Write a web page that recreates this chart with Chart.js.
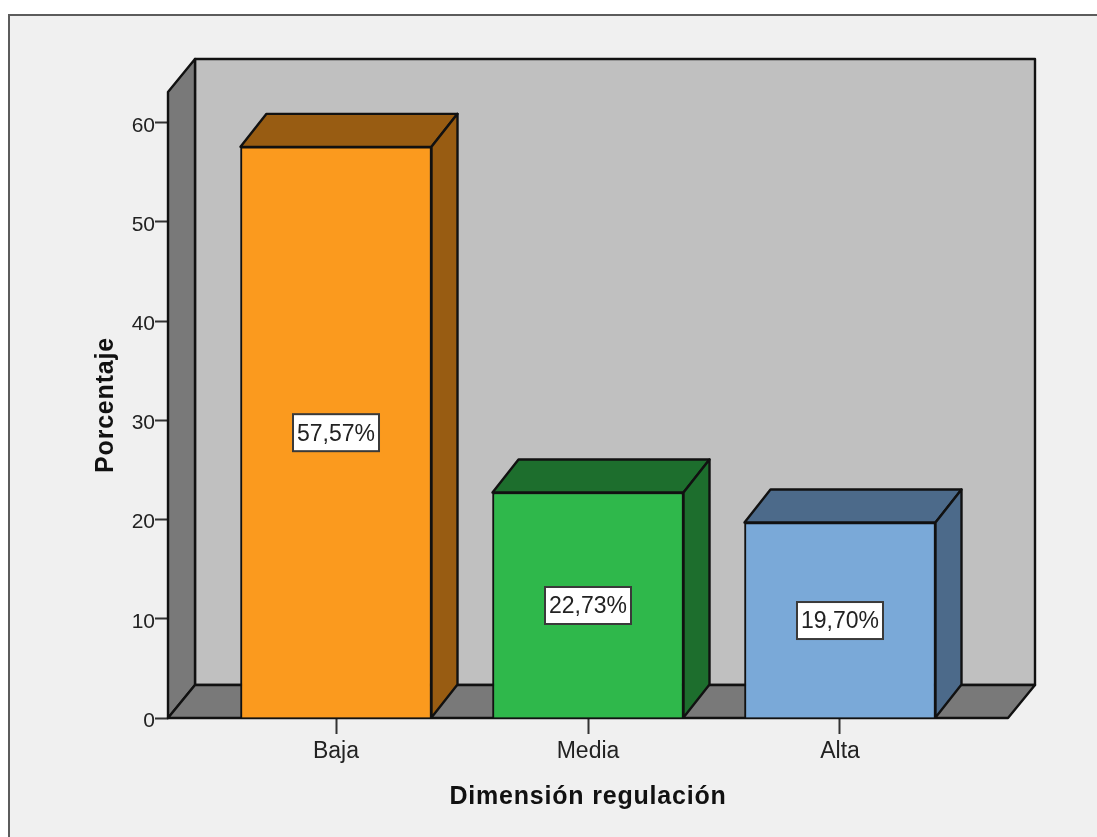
<!DOCTYPE html>
<html lang="es">
<head>
<meta charset="utf-8">
<title>Dimensión regulación</title>
<script src="https://cdn.jsdelivr.net/npm/chart.js@4/dist/chart.umd.min.js"></script>
<style>
  html, body { margin: 0; padding: 0; background: #ffffff; }
  canvas { display: block; }
</style>
</head>
<body>
<canvas id="grafico" width="1097" height="837"></canvas>
<script>
// Datos del gráfico
const categorias = ["Baja", "Media", "Alta"];
const porcentajes = [57.57, 22.73, 19.7];
const etiquetasValor = ["57,57%", "22,73%", "19,70%"];
const marcasY = [0, 10, 20, 30, 40, 50, 60];

// Colores de las barras: frente y caras laterales
const coloresFrente = ["#fb9a1e", "#2fb84b", "#7aa9d8"];
const coloresLado = ["#985c12", "#1d6e2d", "#4c6a8a"];

const FUENTE = "'Liberation Sans', Arial, sans-serif";
const LINEA = "#111111";
const FONDO_X = 27; // desplazamiento de la perspectiva (paredes)
const FONDO_Y = 33;
const BARRA_X = 26; // desplazamiento de la perspectiva (barras)

function poligono(ctx, puntos, relleno) {
  ctx.beginPath();
  puntos.forEach((p, i) => (i === 0 ? ctx.moveTo(p[0], p[1]) : ctx.lineTo(p[0], p[1])));
  ctx.closePath();
  ctx.fillStyle = relleno;
  ctx.fill();
  ctx.lineWidth = 2.4;
  ctx.strokeStyle = LINEA;
  ctx.lineJoin = "round";
  ctx.stroke();
}

// Marco gris y fondo del panel
const marco = {
  id: "marco",
  beforeDraw(chart) {
    const ctx = chart.ctx;
    ctx.save();
    ctx.fillStyle = "#f0f0f0";
    ctx.fillRect(9, 15, chart.width - 9, chart.height - 15);
    ctx.strokeStyle = "#5c5c5c";
    ctx.lineWidth = 2;
    ctx.beginPath();
    ctx.moveTo(9, chart.height);
    ctx.lineTo(9, 15);
    ctx.lineTo(chart.width, 15);
    ctx.stroke();
    ctx.restore();
  },
};

// Títulos de eje con las letras algo separadas
const titulosEspaciados = {
  id: "titulosEspaciados",
  afterLayout(chart) {
    [chart.scales.x, chart.scales.y].forEach((escala) => {
      const original = Object.getPrototypeOf(escala).drawTitle;
      escala.drawTitle = function () {
        chart.ctx.save();
        chart.ctx.letterSpacing = "0.8px";
        original.call(this);
        chart.ctx.restore();
      };
    });
  },
};

// Paredes, suelo y caras 3D de las barras
const caja3d = {
  id: "caja3d",
  beforeDatasetsDraw(chart) {
    const ctx = chart.ctx;
    const { left, right, top, bottom } = chart.chartArea;
    const dx = FONDO_X;
    const dy = FONDO_Y;
    ctx.save();
    poligono(ctx, [[left + dx, top - dy], [right + dx, top - dy], [right + dx, bottom - dy], [left + dx, bottom - dy]], "#c0c0c0");
    poligono(ctx, [[left, top], [left + dx, top - dy], [left + dx, bottom - dy], [left, bottom]], "#797979");
    poligono(ctx, [[left, bottom], [left + dx, bottom - dy], [right + dx, bottom - dy], [right, bottom]], "#797979");

    chart.getDatasetMeta(0).data.forEach((barra, i) => {
      const x0 = barra.x - barra.width / 2;
      const x1 = barra.x + barra.width / 2;
      const y = barra.y;
      const base = barra.base;
      poligono(ctx, [[x0, y], [x0 + BARRA_X, y - dy], [x1 + BARRA_X, y - dy], [x1, y]], coloresLado[i]);
      poligono(ctx, [[x1, y], [x1 + BARRA_X, y - dy], [x1 + BARRA_X, base - dy], [x1, base]], coloresLado[i]);
    });
    ctx.restore();
  },
  afterDatasetsDraw(chart) {
    const ctx = chart.ctx;
    ctx.save();
    // Etiquetas de valor en el centro de cada barra
    ctx.font = "23px " + FUENTE;
    ctx.textAlign = "center";
    ctx.textBaseline = "middle";
    chart.getDatasetMeta(0).data.forEach((barra, i) => {
      const cy = (barra.y + barra.base) / 2;
      ctx.fillStyle = "#ffffff";
      ctx.fillRect(barra.x - 43, cy - 18, 86, 37);
      ctx.strokeStyle = "#3a3a3a";
      ctx.lineWidth = 2;
      ctx.strokeRect(barra.x - 43, cy - 18, 86, 37);
      ctx.fillStyle = "#222222";
      ctx.fillText(etiquetasValor[i], barra.x, cy + 2);
    });
    ctx.restore();
  },
};

new Chart(document.getElementById("grafico"), {
  type: "bar",
  data: {
    datasets: [
      {
        label: "Porcentaje",
        data: categorias.map((c, i) => ({ x: i, y: porcentajes[i] })),
        backgroundColor: coloresFrente,
        borderColor: LINEA,
        borderWidth: 2,
        barThickness: 191,
      },
    ],
  },
  options: {
    responsive: false,
    animation: false,
    layout: { padding: { top: 92, right: 89, left: 0, bottom: 0 } },
    plugins: { legend: { display: false }, tooltip: { enabled: false } },
    scales: {
      x: {
        type: "linear",
        min: -0.6667,
        max: 2.6667,
        offset: false,
        afterBuildTicks(escala) {
          escala.ticks = categorias.map((c, i) => ({ value: i }));
        },
        afterFit(escala) {
          escala.height = 119;
        },
        border: { display: false },
        grid: { offset: false, drawOnChartArea: false, tickLength: 16, tickColor: "#333333", tickWidth: 2 },
        ticks: {
          callback: (valor) => categorias[valor],
          font: { family: FUENTE, size: 23 },
          color: "#222222",
          padding: 4,
          maxRotation: 0,
          autoSkip: false,
        },
        title: {
          display: true,
          text: "Dimensión regulación",
          font: { family: FUENTE, size: 25, weight: "bold" },
          color: "#111111",
          padding: { top: 0, bottom: 25 },
        },
      },
      y: {
        min: 0,
        max: 63.1,
        afterBuildTicks(escala) {
          escala.ticks = marcasY.map((v) => ({ value: v }));
        },
        afterFit(escala) {
          escala.width = 168;
        },
        border: { display: false },
        grid: { drawOnChartArea: false, tickLength: 13, tickColor: "#333333", tickWidth: 2 },
        ticks: {
          font: { family: FUENTE, size: 21 },
          color: "#222222",
          padding: 0,
          labelOffset: 3,
        },
        title: {
          display: true,
          text: "Porcentaje",
          font: { family: FUENTE, size: 25, weight: "bold" },
          color: "#111111",
          padding: { top: 91, bottom: 0 },
        },
      },
    },
  },
  plugins: [marco, titulosEspaciados, caja3d],
});
</script>
</body>
</html>
